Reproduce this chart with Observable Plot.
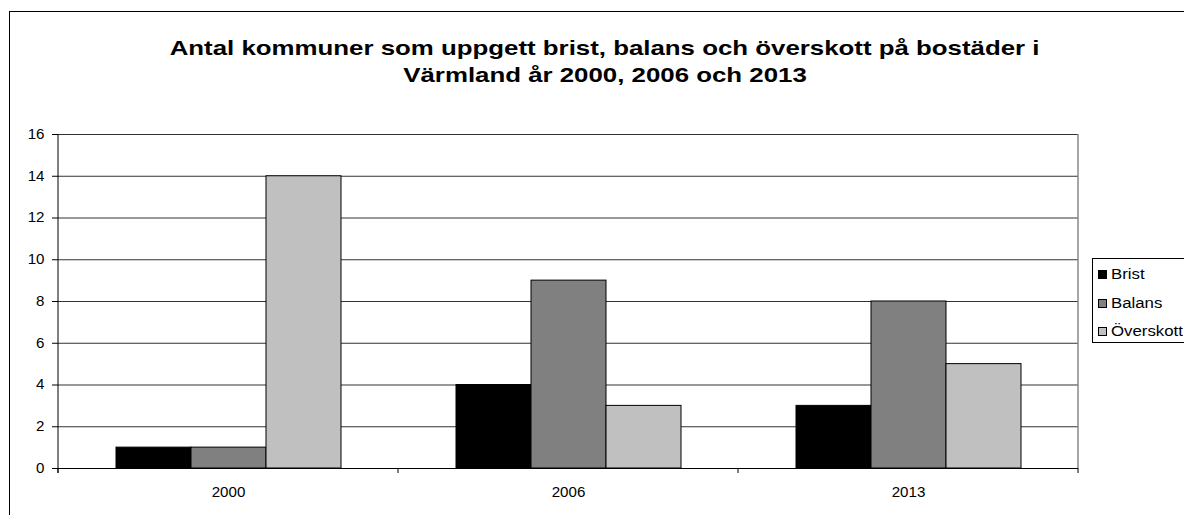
<!DOCTYPE html>
<html>
<head>
<meta charset="utf-8">
<script src="https://cdn.jsdelivr.net/npm/d3@7"></script>
<script src="https://cdn.jsdelivr.net/npm/@observablehq/plot@0.6"></script>
<style>
  html, body { margin: 0; padding: 0; background: #fff; width: 1184px; height: 515px; overflow: hidden; }
  body { position: relative; font-family: "Liberation Sans", Arial, sans-serif; }
  #frame { position: absolute; left: 9px; top: 11px; width: 1200px; height: 520px; border: 1px solid #000; box-sizing: border-box; }
  #title { position: absolute; left: 0; top: 34px; width: 1210px; text-align: center; font-weight: bold; font-size: 21px; line-height: 27px; color: #000; }
  #title div span { display: inline-block; transform: scaleX(1.23); transform-origin: center; white-space: nowrap; }
  #chart { position: absolute; left: 0; top: 0; }
  #legend { position: absolute; left: 1092px; top: 258px; width: 120px; height: 85px; border: 1px solid #000; box-sizing: border-box; background: #fff; }
  .item { position: absolute; left: 5px; font-size: 14px; line-height: 16px; white-space: nowrap; color: #000; }
  .sw { display: inline-block; width: 7px; height: 7px; border: 1px solid #000; margin-right: 4px; vertical-align: 0px; }
  .lbl { display: inline-block; transform: scaleX(1.2); transform-origin: left center; }
</style>
</head>
<body>
<div id="frame"></div>
<div id="chart"></div>
<div id="title"></div>
<div id="legend"></div>
<script>
const titleLines = ["Antal kommuner som uppgett brist, balans och överskott på bostäder i", "Värmland år 2000, 2006 och 2013"];
const years = ["2000", "2006", "2013"];
const series = ["Brist", "Balans", "Överskott"];
const brist = [1, 4, 3];
const balans = [1, 9, 8];
const overskott = [14, 3, 5];
const colors = ["#000000", "#808080", "#c0c0c0"];
const yTicks = [0, 2, 4, 6, 8, 10, 12, 14, 16];

const values = [brist, balans, overskott];
const data = years.flatMap((yr, i) => series.map((s, j) => ({year: yr, series: s, value: values[j][i]})));

document.getElementById("title").innerHTML = titleLines.map(t => `<div><span>${t}</span></div>`).join("");

const legend = document.getElementById("legend");
series.forEach((s, j) => {
  const d = document.createElement("div");
  d.className = "item";
  d.style.top = (7 + j * 28.5) + "px";
  d.innerHTML = `<span class="sw" style="background:${colors[j]}"></span><span class="lbl">${s}</span>`;
  legend.appendChild(d);
});

const plot = Plot.plot({
  width: 1184,
  height: 515,
  marginLeft: 57,
  marginRight: 106,
  marginTop: 134,
  marginBottom: 47,
  style: {fontFamily: "'Liberation Sans', Arial, sans-serif", fontSize: "14px", color: "#000", background: "transparent", overflow: "visible"},
  fx: {domain: years, padding: 0, label: null},
  x: {domain: series, paddingInner: 0, paddingOuter: 0.75, axis: null},
  y: {domain: [0, 16], label: null},
  color: {domain: series, range: colors},
  marks: [
    Plot.gridY(yTicks.filter(t => t > 0), {stroke: "#333", strokeOpacity: 1}),
    Plot.barY(data, {fx: "year", x: "series", y: "value", fill: "series", stroke: "#000", strokeWidth: 1, inset: 0}),
    Plot.ruleY([0], {stroke: "#000"}),
    Plot.axisY({ticks: yTicks, tickSize: 6, tickPadding: 8, label: null, fontSize: 14}),
    Plot.axisFx({anchor: "bottom", tickSize: 0, tickPadding: 19, label: null, fontSize: 14})
  ]
});
document.getElementById("chart").appendChild(plot);

// widen the axis text slightly, as in the reference
d3.select(plot).selectAll("g[aria-label*='tick label'] text").each(function() {
  const len = this.getComputedTextLength();
  this.setAttribute("textLength", (len * 1.08).toFixed(2));
  this.setAttribute("lengthAdjust", "spacingAndGlyphs");
});

// frame lines and category ticks, placed from the plot's own scales
const fx = plot.scale("fx");
const y = plot.scale("y");
const svg = d3.select(plot);
const y0 = y.apply(0), yTop = y.apply(16);
const left = fx.apply(years[0]);
const right = fx.apply(years[years.length - 1]) + fx.bandwidth;
const g = svg.append("g");
g.append("line").attr("x1", right).attr("x2", right).attr("y1", yTop).attr("y2", y0)
  .attr("stroke", "#888").attr("stroke-width", 1.5);
g.append("line").attr("x1", left).attr("x2", left).attr("y1", yTop).attr("y2", y0 + 5)
  .attr("stroke", "#000");
const bounds = years.map(v => fx.apply(v)).concat([right]);
bounds.forEach(b => {
  g.append("line").attr("x1", b).attr("x2", b).attr("y1", y0).attr("y2", y0 + 5).attr("stroke", "#000");
});
</script>
</body>
</html>
